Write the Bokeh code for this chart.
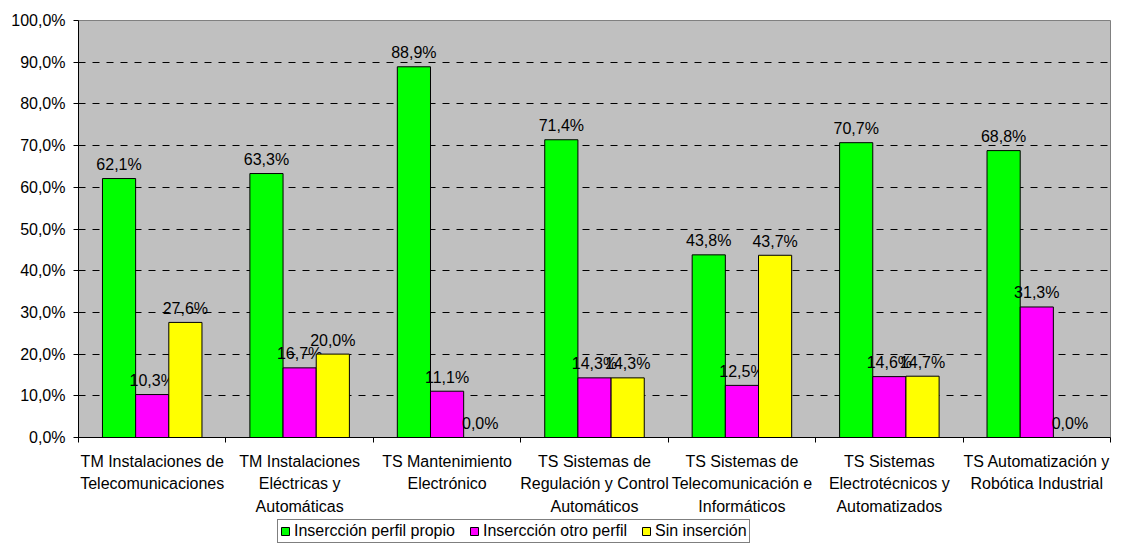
from bokeh.plotting import figure
from bokeh.layouts import column
from bokeh.models import (Range1d, FixedTicker, Legend, LegendItem, ColumnDataSource)
from bokeh.core.properties import value
from bokeh.embed import file_html
from bokeh.resources import INLINE

categories = [
    "TM Instalaciones de\nTelecomunicaciones",
    "TM Instalaciones\nEléctricas y\nAutomáticas",
    "TS Mantenimiento\nElectrónico",
    "TS Sistemas de\nRegulación y Control\nAutomáticos",
    "TS Sistemas de\nTelecomunicación e\nInformáticos",
    "TS Sistemas\nElectrotécnicos y\nAutomatizados",
    "TS Automatización y\nRobótica Industrial",
]
series_names = ["Insercción perfil propio", "Insercción otro perfil", "Sin inserción"]
propio = [62.1, 63.3, 88.9, 71.4, 43.8, 70.7, 68.8]
otro = [10.3, 16.7, 11.1, 14.3, 12.5, 14.6, 31.3]
sin = [27.6, 20.0, 0.0, 14.3, 43.7, 14.7, 0.0]
y_ticks = [0, 10, 20, 30, 40, 50, 60, 70, 80, 90, 100]

colors = ["#00FF00", "#FF00FF", "#FFFF00"]
offsets = [-0.225, 0.0, 0.225]
bar_w = 0.225
FONT = "Liberation Sans"

p = figure(width=1112, height=518, output_backend="svg", toolbar_location=None,
           x_range=Range1d(0, len(categories)), y_range=Range1d(0, 100),
           min_border_left=78, min_border_right=2, min_border_top=20, min_border_bottom=80)

p.background_fill_color = "#C0C0C0"
p.border_fill_color = "white"
p.outline_line_color = "#808080"
p.outline_line_width = 1

for vals, col, off in zip([propio, otro, sin], colors, offsets):
    xs = [i + 0.5 + off for i in range(len(categories))]
    src = ColumnDataSource(dict(x=xs, top=vals,
                                lbl=[("%.1f%%" % v).replace(".", ",") for v in vals]))
    p.vbar(x="x", top="top", bottom=0, width=bar_w, source=src,
           fill_color=col, line_color="black", line_width=1)
    p.text(x="x", y="top", text="lbl", source=src, y_offset=-14,
           text_align="center", text_baseline="alphabetic",
           text_font=value(FONT), text_font_size="16px", text_color="black")

# x axis
xa = p.xaxis[0]
xa.ticker = FixedTicker(ticks=[i + 0.5 for i in range(len(categories))],
                        minor_ticks=list(range(len(categories) + 1)))
xa.major_label_overrides = {i + 0.5: c for i, c in enumerate(categories)}
xa.major_tick_line_color = None
xa.major_tick_out = 5
xa.major_tick_in = 0
xa.minor_tick_line_color = "black"
xa.minor_tick_out = 5
xa.minor_tick_in = 0
xa.axis_line_color = "black"
xa.major_label_text_font = FONT
xa.major_label_text_font_size = "16px"
xa.major_label_text_color = "black"
xa.major_label_text_line_height = 1.35
xa.major_label_standoff = 10

ya = p.yaxis[0]
ya.ticker = FixedTicker(ticks=y_ticks)
ya.major_label_overrides = {t: "%d,0%%" % t for t in y_ticks}
ya.major_tick_out = 5
ya.major_tick_in = 0
ya.minor_tick_line_color = None
ya.axis_line_color = "black"
ya.major_tick_line_color = "black"
ya.major_label_text_font = FONT
ya.major_label_text_font_size = "16px"
ya.major_label_text_color = "black"
ya.major_label_standoff = 8

p.xgrid.grid_line_color = None
p.ygrid.ticker = FixedTicker(ticks=y_ticks[1:-1])
p.ygrid.grid_line_color = "#000000"
p.ygrid.grid_line_dash = "7 7"
p.ygrid.grid_line_width = 1

# legend strip below the chart
lg = figure(width=1112, height=26, output_backend="svg", toolbar_location=None,
            x_range=Range1d(0, 1), y_range=Range1d(0, 1),
            x_axis_type=None, y_axis_type=None,
            min_border_left=0, min_border_right=0, min_border_top=0, min_border_bottom=0)
lg.outline_line_color = None
lg.background_fill_color = "white"
lg.xgrid.visible = False
lg.ygrid.visible = False
dummies = [lg.vbar(x=[-10], top=[0], width=0.1, fill_color=c, line_color="black") for c in colors]
legend = Legend(items=[LegendItem(label=n, renderers=[r]) for n, r in zip(series_names, dummies)],
                orientation="horizontal", location=(199, 1),
                border_line_color="black", border_line_width=1,
                background_fill_color="white", background_fill_alpha=1,
                label_text_font=FONT, label_text_font_size="16px", label_text_color="black",
                glyph_width=10, glyph_height=10, label_standoff=4, spacing=14,
                padding=2, margin=0, label_height=16)
lg.add_layout(legend, "center")

open("out.html", "w").write(file_html(column(p, lg), INLINE))
